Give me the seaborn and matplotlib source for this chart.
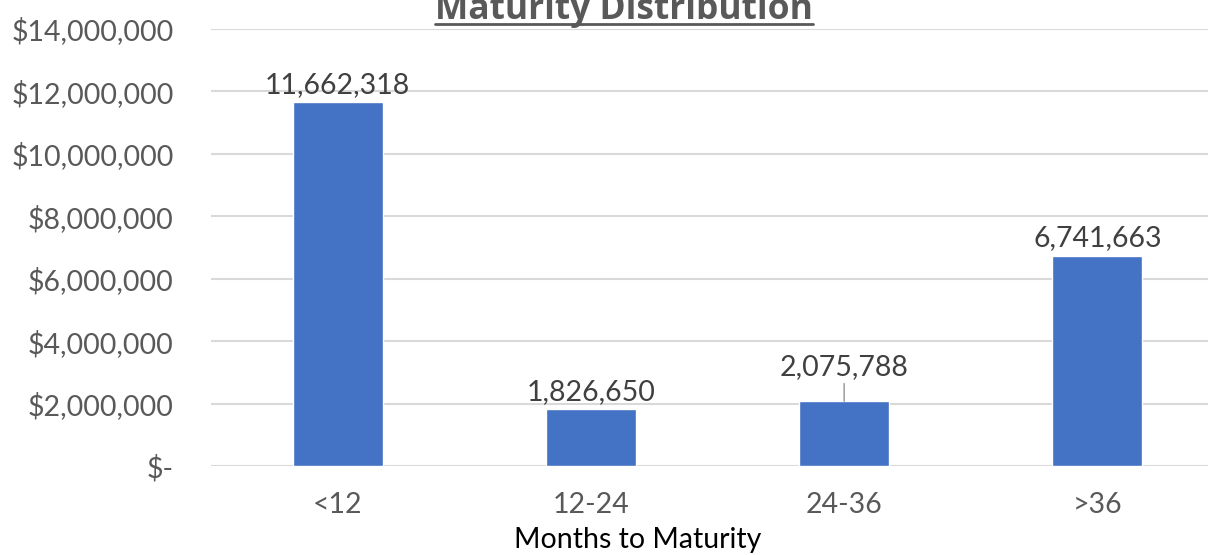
import pandas as pd
import seaborn as sns
import matplotlib.pyplot as plt
from matplotlib.lines import Line2D
from matplotlib.ticker import FuncFormatter

# Дані
months = ['<12', '12-24', '24-36', '>36']
amounts = [11662318, 1826650, 2075788, 6741663]

df = pd.DataFrame({'Months to Maturity': months, 'Amount': amounts})

sns.set_theme(style='white')
plt.rcParams['font.family'] = ['Lato', 'DejaVu Sans']

fig = plt.figure(figsize=(12.08, 5.55), dpi=100)
ax = fig.add_axes([0.1747, 0.1604, 0.8386, 0.7873])

sns.barplot(data=df, x='Months to Maturity', y='Amount', color='#4472C4',
            width=0.355, saturation=1, ax=ax)

fs = 20.5
ax.set_xlim(-0.5, 3.5)
ax.set_ylim(0, 14000000)
ax.set_yticks(range(0, 14000001, 2000000))
ax.yaxis.set_major_formatter(FuncFormatter(lambda v, p: '$-' if v == 0 else f'${v:,.0f}'))
ax.grid(axis='y', color='#d9d9d9', linewidth=1.5)
ax.set_axisbelow(True)
for s in ax.spines.values():
    s.set_visible(False)
ax.tick_params(axis='y', length=0, pad=27, labelsize=fs, labelcolor='#595959')
ax.tick_params(axis='x', length=0, pad=19, labelsize=fs, labelcolor='#595959')
ax.set_ylabel('')
ax.set_xlabel('Months to Maturity', fontsize=fs, color='black', va='center')
ax.xaxis.set_label_coords(0.4215, -0.169)

# Підписи над стовпцями
for i, (bar, val) in enumerate(zip(ax.patches, amounts)):
    x = bar.get_x() + bar.get_width() / 2
    y = bar.get_height()
    if i == 2:
        ax.annotate(f'{val:,}', xy=(x, y), xytext=(0, 15), textcoords='offset points',
                    ha='center', va='bottom', fontsize=fs, color='#404040',
                    arrowprops=dict(arrowstyle='-', color='#a6a6a6', lw=1.2,
                                    shrinkA=0, shrinkB=0))
    else:
        ax.annotate(f'{val:,}', xy=(x, y), xytext=(0, 3), textcoords='offset points',
                    ha='center', va='bottom', fontsize=fs, color='#404040')

# Заголовок з підкресленням
title = fig.text(0.5166, 1 - 19.5 / 555, 'Maturity Distribution', ha='center', va='baseline',
                 fontsize=25.5, fontweight='bold', color='#595959', family=['Open Sans', 'DejaVu Sans'])
fig.canvas.draw()
bb = title.get_window_extent().transformed(fig.transFigure.inverted())
fig.add_artist(Line2D([bb.x0, bb.x1], [1 - 24 / 555, 1 - 24 / 555], color='#595959',
                      linewidth=2, transform=fig.transFigure))

fig.savefig('out.png', dpi=100)
